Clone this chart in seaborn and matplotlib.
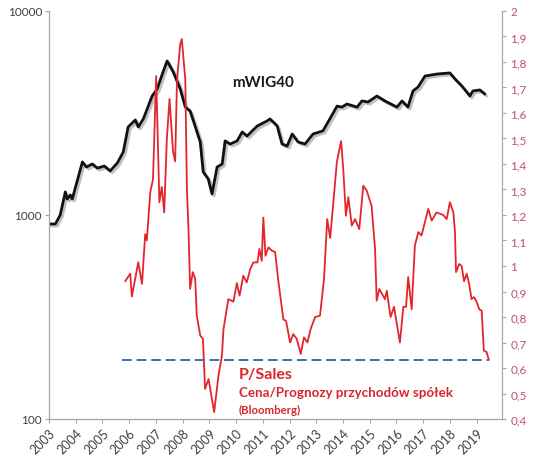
import matplotlib
matplotlib.use("Agg")
import matplotlib.pyplot as plt
import matplotlib.patheffects as pe
from matplotlib.ticker import FixedLocator, FuncFormatter, NullLocator
import seaborn as sns
import pandas as pd

# mWIG40 index (left, log scale)
wig_years = [2003.00, 2003.24, 2003.42, 2003.61, 2003.68, 2003.80, 2003.87, 2004.25, 2004.40, 2004.62,
             2004.81, 2005.07, 2005.29, 2005.56, 2005.78, 2005.96, 2006.23, 2006.34, 2006.53, 2006.86,
             2007.05, 2007.24, 2007.42, 2007.65, 2007.91, 2008.10, 2008.28, 2008.66, 2008.77, 2008.96,
             2009.10, 2009.29, 2009.48, 2009.59, 2009.78, 2010.04, 2010.23, 2010.41, 2010.79, 2011.16,
             2011.27, 2011.54, 2011.72, 2011.91, 2012.10, 2012.32, 2012.58, 2012.88, 2013.25, 2013.40,
             2013.78, 2013.96, 2014.15, 2014.53, 2014.71, 2014.94, 2015.27, 2015.57, 2016.02, 2016.21,
             2016.43, 2016.62, 2016.81, 2017.07, 2017.52, 2018.00, 2018.19, 2018.45, 2018.75, 2018.86,
             2019.12, 2019.31]
wig_values = [904, 904, 1000, 1297, 1197, 1253, 1197, 1820, 1718, 1778,
              1698, 1738, 1645, 1800, 2038, 2700, 2924, 2700, 2958, 3830,
              4150, 4910, 5690, 5020, 4150, 3380, 3236, 2280, 1626, 1500,
              1268, 1718, 1778, 2308, 2228, 2308, 2553, 2438, 2730, 2890,
              2958, 2730, 2228, 2178, 2495, 2280, 2228, 2495, 2584, 2793,
              3420, 3380, 3500, 3380, 3623, 3580, 3830, 3623, 3380, 3623,
              3380, 4056, 4240, 4800, 4910, 4970, 4642, 4285, 3830, 4056,
              4102, 3917]

# P/Sales (right axis)
ps_years = [2005.85, 2006.04, 2006.10, 2006.34, 2006.48, 2006.60, 2006.66, 2006.79, 2006.89, 2007.01,
            2007.13, 2007.22, 2007.31, 2007.41, 2007.51, 2007.64, 2007.72, 2007.79, 2007.91, 2007.97,
            2008.10, 2008.16, 2008.22, 2008.28, 2008.38, 2008.47, 2008.53, 2008.66, 2008.76, 2008.84,
            2008.97, 2009.18, 2009.34, 2009.47, 2009.53, 2009.71, 2009.90, 2010.03, 2010.13, 2010.27,
            2010.40, 2010.53, 2010.65, 2010.80, 2010.87, 2010.96, 2011.02, 2011.10, 2011.21, 2011.34,
            2011.46, 2011.58, 2011.77, 2011.87, 2012.02, 2012.14, 2012.27, 2012.42, 2012.54, 2012.67,
            2012.79, 2012.96, 2013.14, 2013.29, 2013.41, 2013.52, 2013.64, 2013.77, 2013.93, 2014.01,
            2014.11, 2014.20, 2014.33, 2014.45, 2014.61, 2014.76, 2014.89, 2015.07, 2015.20, 2015.26,
            2015.36, 2015.57, 2015.64, 2015.78, 2015.91, 2016.13, 2016.26, 2016.36, 2016.44, 2016.57,
            2016.69, 2016.82, 2016.94, 2017.19, 2017.32, 2017.50, 2017.75, 2017.88, 2018.00, 2018.13,
            2018.19, 2018.23, 2018.35, 2018.44, 2018.53, 2018.63, 2018.72, 2018.81, 2018.90, 2019.00,
            2019.10, 2019.19, 2019.27, 2019.37, 2019.46]
ps_values = [0.94, 0.97, 0.88, 1.015, 0.93, 1.125, 1.10, 1.29, 1.34, 1.745,
             1.25, 1.31, 1.21, 1.50, 1.655, 1.45, 1.41, 1.73, 1.87, 1.89,
             1.73, 1.30, 1.145, 0.91, 0.976, 0.95, 0.805, 0.727, 0.714, 0.518,
             0.557, 0.427, 0.57, 0.648, 0.753, 0.87, 0.86, 0.933, 0.884, 0.962,
             0.936, 0.988, 1.014, 1.014, 1.067, 1.02, 1.19, 1.04, 1.073, 1.06,
             1.055, 0.942, 0.79, 0.785, 0.70, 0.733, 0.714, 0.655, 0.72, 0.70,
             0.753, 0.80, 0.805, 0.949, 1.184, 1.11, 1.25, 1.407, 1.49, 1.38,
             1.197, 1.27, 1.158, 1.184, 1.145, 1.315, 1.295, 1.236, 1.067, 0.864,
             0.91, 0.87, 0.903, 0.80, 0.84, 0.70, 0.84, 0.84, 0.957, 0.83,
             1.08, 1.133, 1.12, 1.224, 1.178, 1.21, 1.20, 1.184, 1.25, 1.21,
             1.133, 0.976, 1.008, 1.0, 0.94, 0.97, 0.93, 0.87, 0.878, 0.86,
             0.83, 0.825, 0.668, 0.663, 0.632]

ref_years = [2005.74, 2019.46]
ref_values = [0.632, 0.632]

year_ticks = list(range(2003, 2020))
left_ticks = [100, 1000, 10000]
right_ticks = [0.4, 0.5, 0.6, 0.7, 0.8, 0.9, 1.0, 1.1, 1.2, 1.3, 1.4, 1.5, 1.6, 1.7, 1.8, 1.9, 2.0]

sns.set_style("white")
plt.rcParams['font.family'] = ['Lato', 'DejaVu Sans']

fig = plt.figure(figsize=(5.36, 4.64), dpi=100)
ax = fig.add_axes([49/536, 1 - 420/464, (502 - 49)/536, (420 - 12)/464])
ax2 = ax.twinx()

wig_df = pd.DataFrame({"year": wig_years, "value": wig_values})
ps_df = pd.DataFrame({"year": ps_years, "value": ps_values})
ref_df = pd.DataFrame({"year": ref_years, "value": ref_values})

sns.lineplot(data=wig_df, x="year", y="value", ax=ax, color="#111111", linewidth=2.0,
             path_effects=[pe.SimpleLineShadow(offset=(1.5, -1.5), shadow_color="#999999", alpha=0.6),
                           pe.Normal()])
sns.lineplot(data=ps_df, x="year", y="value", ax=ax2, color="#e3262d", linewidth=1.3)
sns.lineplot(data=ref_df, x="year", y="value", ax=ax2, color="#3b6ea8", linewidth=1.4,
             linestyle=(0, (5, 2.5)))

ax.set_yscale("log")
ax.set_ylim(100, 10000)
ax.set_xlim(2003, 2019.95)
ax2.set_ylim(0.4, 2.0)

ax.yaxis.set_major_locator(FixedLocator(left_ticks))
ax.yaxis.set_minor_locator(NullLocator())
ax.yaxis.set_major_formatter(FuncFormatter(lambda v, p: f"{int(round(v))}"))
ax.set_xticks(year_ticks)
ax.set_xticklabels([str(y) for y in year_ticks], rotation=45, ha="right", rotation_mode="anchor")

ax2.yaxis.set_major_locator(FixedLocator(right_ticks))
ax2.yaxis.set_major_formatter(FuncFormatter(lambda v, p: (f"{v:.1f}".replace(".", ",") if abs(v - round(v)) > 1e-6 else f"{int(round(v))}")))

for a in (ax, ax2):
    a.set_xlabel("")
    a.set_ylabel("")
    a.spines["top"].set_visible(False)
    for s in ("left", "right", "bottom"):
        a.spines[s].set_color("#a6a6a6")
        a.spines[s].set_linewidth(0.9)

ax.tick_params(axis="y", which="both", left=True, length=3, color="#a6a6a6", labelsize=8.5, labelcolor="#404040", pad=2)
ax.tick_params(axis="x", bottom=True, length=3, color="#a6a6a6", labelsize=9, labelcolor="#404040", pad=2)
ax2.tick_params(axis="y", right=True, length=3, color="#a6a6a6", labelsize=8.5, labelcolor="#c0506a", pad=3)
ax.spines["right"].set_visible(False)
ax2.spines["left"].set_visible(False)
ax2.spines["bottom"].set_visible(False)

fig.text(232/536, 1 - 83/464, "mWIG40", fontsize=11, fontweight="bold", color="#1a1a1a", va="center", ha="left")
fig.text(239/536, 1 - 375/464, "P/Sales", fontsize=11.5, fontweight="bold", color="#d9262e", va="center", ha="left")
fig.text(239/536, 1 - 393/464, "Cena/Prognozy przychodów spółek", fontsize=9.6, fontweight="bold", color="#d9262e", va="center", ha="left")
fig.text(239/536, 1 - 410/464, "(Bloomberg)", fontsize=8.2, fontweight="bold", color="#d9262e", va="center", ha="left")

fig.savefig("out.png", dpi=100)
